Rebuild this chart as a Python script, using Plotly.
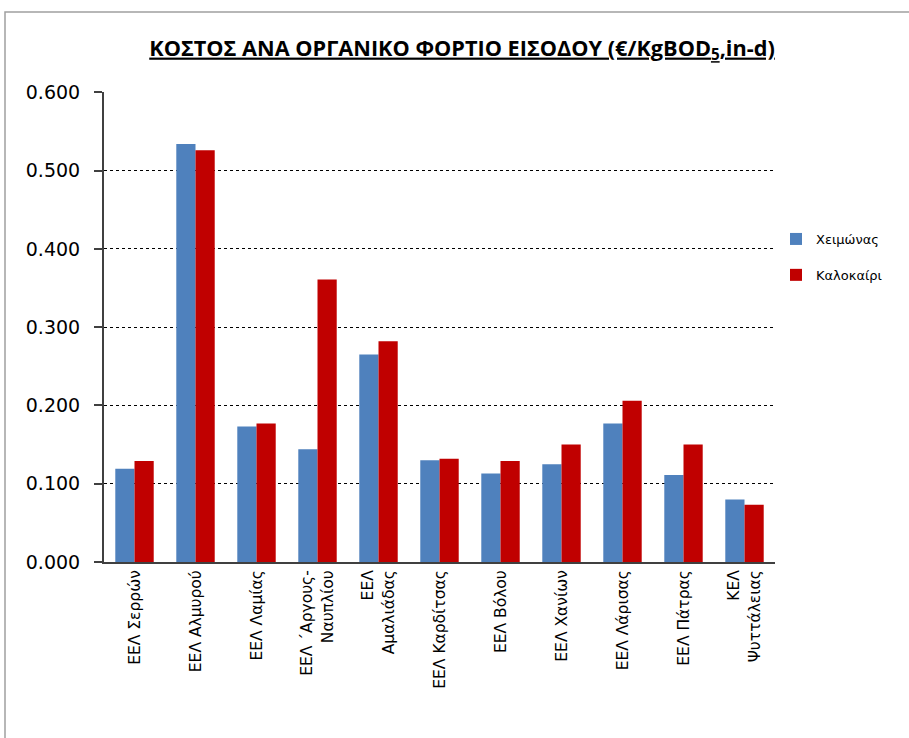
import plotly.graph_objects as go

categories = [
    "ΕΕΛ Σερρών",
    "ΕΕΛ Αλμυρού",
    "ΕΕΛ Λαμίας",
    "ΕΕΛ ΄Αργους-<br>Ναυπλίου",
    "ΕΕΛ<br>Αμαλιάδας",
    "ΕΕΛ Καρδίτσας",
    "ΕΕΛ Βόλου",
    "ΕΕΛ Χανίων",
    "ΕΕΛ Λάρισας",
    "ΕΕΛ Πάτρας",
    "ΚΕΛ<br>Ψυττάλειας",
]
winter = [0.119, 0.534, 0.173, 0.144, 0.265, 0.130, 0.113, 0.125, 0.177, 0.111, 0.080]
summer = [0.129, 0.526, 0.177, 0.361, 0.282, 0.132, 0.129, 0.150, 0.206, 0.150, 0.073]
series_names = ["Χειμώνας", "Καλοκαίρι"]
y_ticks = [0.0, 0.1, 0.2, 0.3, 0.4, 0.5, 0.6]
title_text = "ΚΟΣΤΟΣ ΑΝΑ ΟΡΓΑΝΙΚΟ ΦΟΡΤΙΟ ΕΙΣΟΔΟΥ (€/KgBOD<sub>5</sub>,in-d)"

fig = go.Figure()
fig.add_trace(go.Bar(x=categories, y=winter, name=series_names[0],
                     marker=dict(color="#4F81BD", line=dict(width=0)),
                     legendgroup="a"))
fig.add_trace(go.Bar(x=categories, y=summer, name=series_names[1],
                     marker=dict(color="#C00000", line=dict(width=0)),
                     legendgroup="b"))

W, H = 909, 738
L, R, T, B = 104, 134, 92, 176
pw = W - L - R
ph = H - T - B

fig.update_layout(
    width=W, height=H,
    margin=dict(l=L, r=R, t=T, b=B, autoexpand=False),
    paper_bgcolor="white", plot_bgcolor="white",
    barmode="group", bargap=0.37, bargroupgap=0.0,
    font=dict(family="DejaVu Sans", color="#000000"),
    title=dict(
        text='<span style="text-decoration:underline">' + title_text + "</span>",
        x=(462 - L) / pw, xref="paper", xanchor="center",
        y=1 - 48 / H, yanchor="middle",
        font=dict(family="Open Sans", size=21.7, color="#000000", weight="bold"),
    ),
    legend=dict(
        x=(776 - L) / pw, xanchor="left",
        y=(H - B - 224) / ph, yanchor="top",
        font=dict(family="DejaVu Sans", size=13, color="#000000"),
        traceorder="grouped", tracegroupgap=16,
        itemwidth=30, bgcolor="rgba(0,0,0,0)",
    ),
    showlegend=True,
    xaxis=dict(
        tickangle=-90, showline=True, linecolor="#404040", linewidth=2,
        ticks="", showgrid=False,
        tickfont=dict(family="DejaVu Sans", size=15.5, color="#000000"),
    ),
    yaxis=dict(
        range=[0, 0.6005], tickvals=y_ticks, tickformat=".3f",
        showline=True, linecolor="#404040", linewidth=2,
        ticks="outside", ticklen=8, tickcolor="#404040", tickwidth=1.5,
        ticklabelstandoff=10,
        showgrid=True, gridcolor="#000000", gridwidth=1, griddash="dot",
        zeroline=False,
        tickfont=dict(family="DejaVu Sans", size=19, color="#000000"),
    ),
    shapes=[dict(
        type="rect", xref="paper", yref="paper",
        x0=(5 - L) / pw, x1=(W + 20 - L) / pw,
        y0=-(B + 20) / ph, y1=(H - B - 12) / ph,
        line=dict(color="#A0A0A0", width=1.5), fillcolor="rgba(0,0,0,0)",
        layer="below",
    )],
)

fig.write_html("out.html", config={"displayModeBar": False},
               post_script="document.body.style.margin='0';")
